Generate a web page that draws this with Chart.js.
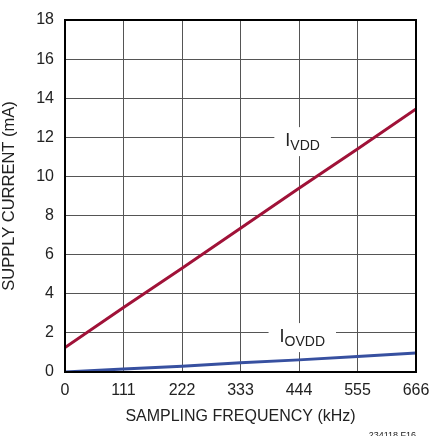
<!DOCTYPE html>
<html>
<head>
<meta charset="utf-8">
<script src="https://cdn.jsdelivr.net/npm/chart.js@4"></script>
<style>
  html, body { margin: 0; padding: 0; background: #fff; }
  #wrap { width: 433px; height: 436px; position: relative; }
</style>
</head>
<body>
<div id="wrap"><canvas id="myChart" width="433" height="436"></canvas></div>
<script>
const FONT = "'Liberation Sans Narrow', 'Liberation Sans', Arial, sans-serif";

// sampling frequency (kHz)
const freqKHz = [0, 111, 222, 333, 444, 555, 666];
// supply current (mA)
const ivdd  = [1.25, 3.3, 5.3, 7.35, 9.4, 11.4, 13.45];
const iovdd = [0, 0.15, 0.3, 0.47, 0.62, 0.79, 0.97];

const xTicks = [0, 111, 222, 333, 444, 555, 666];
const yTicks = [0, 2, 4, 6, 8, 10, 12, 14, 16, 18];

// curve labels: [main, subscript, x (kHz), baseline (mA)]
const curveLabels = [
  ["I", "VDD", 420, 11.55],
  ["I", "OVDD", 409, 1.53]
];

function toPoints(ys) {
  return freqKHz.map((f, i) => ({ x: f, y: ys[i] }));
}

// frame, curve labels, footnote
const extras = {
  id: "extras",
  afterDraw(chart) {
    const ctx = chart.ctx;
    const a = chart.chartArea;
    const xs = chart.scales.x, ys = chart.scales.y;
    ctx.save();
    ctx.strokeStyle = "#000";
    ctx.lineWidth = 2;
    ctx.strokeRect(a.left, a.top, a.right - a.left, a.bottom - a.top);

    curveLabels.forEach(l => {
      const x0 = xs.getPixelForValue(l[2]);
      const base = ys.getPixelForValue(l[3]);
      ctx.font = "18px " + FONT;
      const w1 = ctx.measureText(l[0]).width;
      ctx.font = "14px " + FONT;
      const w2 = ctx.measureText(l[1]).width;
      ctx.fillStyle = "#fff";
      ctx.fillRect(x0 - 12, base - 19, w1 + w2 + 22, 29);
      ctx.fillStyle = "#222";
      ctx.textBaseline = "alphabetic";
      ctx.textAlign = "left";
      ctx.font = "18px " + FONT;
      ctx.fillText(l[0], x0 - 1, base);
      ctx.font = "14px " + FONT;
      ctx.fillText(l[1], x0 + w1 - 1, base + 4);
    });

    ctx.font = "9px " + FONT;
    ctx.fillStyle = "#222";
    ctx.textAlign = "right";
    ctx.fillText("234118 F16", a.right, 438);
    ctx.restore();
  }
};

new Chart(document.getElementById("myChart"), {
  type: "line",
  data: {
    datasets: [
      {
        label: "IVDD",
        data: toPoints(ivdd),
        borderColor: "#a01238",
        borderWidth: 3,
        pointRadius: 0,
        tension: 0
      },
      {
        label: "IOVDD",
        data: toPoints(iovdd),
        borderColor: "#3750a0",
        borderWidth: 3,
        pointRadius: 0,
        tension: 0
      }
    ]
  },
  options: {
    responsive: false,
    animation: false,
    events: [],
    layout: { padding: { left: 0, top: 20, right: 17, bottom: 8 } },
    plugins: { legend: { display: false }, tooltip: { enabled: false } },
    scales: {
      x: {
        type: "linear",
        min: 0,
        max: 666,
        afterBuildTicks: s => { s.ticks = xTicks.map(v => ({ value: v })); },
        afterFit: s => { s.height = 56; s.paddingLeft = 0; s.paddingRight = 0; },
        grid: { color: "#555", lineWidth: 1, drawTicks: false },
        border: { display: false },
        ticks: { color: "#222", font: { family: FONT, size: 16 }, padding: 9, maxRotation: 0 },
        title: {
          display: true,
          text: "SAMPLING FREQUENCY (kHz)",
          color: "#222",
          font: { family: FONT, size: 16 },
          padding: { top: 4, bottom: 2 }
        }
      },
      y: {
        min: 0,
        max: 18,
        afterBuildTicks: s => { s.ticks = yTicks.map(v => ({ value: v })); },
        afterFit: s => { s.width = 65; s.paddingTop = 0; s.paddingBottom = 0; },
        grid: { color: "#555", lineWidth: 1, drawTicks: false },
        border: { display: false },
        ticks: { color: "#222", font: { family: FONT, size: 16 }, padding: 11 },
        title: {
          display: true,
          text: "SUPPLY CURRENT (mA)",
          color: "#222",
          font: { family: FONT, size: 16.5 },
          padding: { top: 0, bottom: 4 }
        }
      }
    }
  },
  plugins: [extras]
});
</script>
</body>
</html>
